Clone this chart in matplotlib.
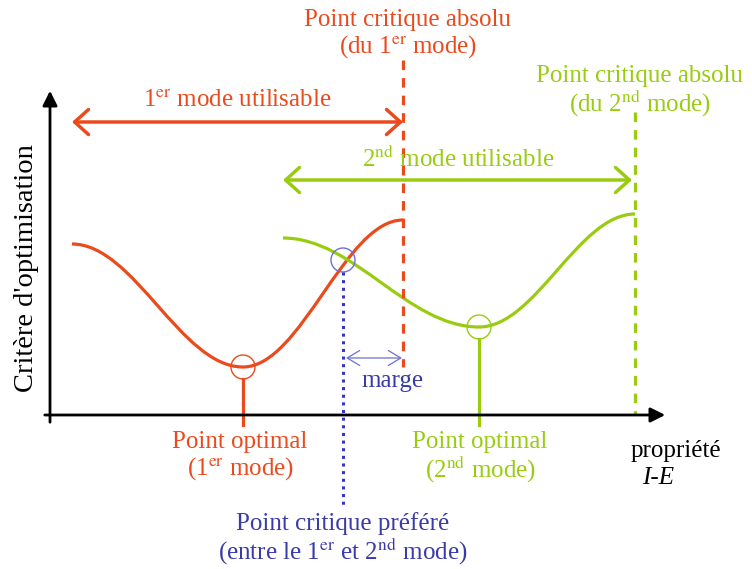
import numpy as np
import matplotlib.pyplot as plt
from matplotlib.patches import Circle, PathPatch
from matplotlib.path import Path

plt.rcParams['font.family'] = 'Liberation Serif'
plt.rcParams['mathtext.fontset'] = 'stix'

RED = '#ea4a1c'
GREEN = '#99cc11'
BLUE = '#3a3aa8'
BLUE_LIGHT = '#6f6fcf'

# turning points of the two schematic curves (pixel coords, y downwards)
mode1_x = [72, 243, 403]
mode1_y = [244, 367, 220]
mode2_x = [283, 479, 635]
mode2_y = [238, 327, 214]

opt1 = (243, 367)
opt2 = (479, 327)
cross = (343, 260)
crit1_x = 403
crit2_x = 635


def smooth_path(xs, ys, k=0.3642):
    # cubic bezier pieces, flat tangent at every turning point
    verts = [(xs[0], ys[0])]
    codes = [Path.MOVETO]
    for i in range(len(xs) - 1):
        dx = xs[i + 1] - xs[i]
        verts += [(xs[i] + k * dx, ys[i]), (xs[i + 1] - k * dx, ys[i + 1]), (xs[i + 1], ys[i + 1])]
        codes += [Path.CURVE4] * 3
    return Path(verts, codes)


fig = plt.figure(figsize=(7.52, 5.69), dpi=100)
ax = fig.add_axes([0, 0, 1, 1])
ax.set_xlim(0, 752)
ax.set_ylim(569, 0)
ax.axis('off')

# axes arrows
ax.annotate('', xy=(668, 415), xytext=(42, 415),
            arrowprops=dict(arrowstyle='-|>', lw=2, color='black', mutation_scale=22))
ax.annotate('', xy=(50, 88), xytext=(50, 425),
            arrowprops=dict(arrowstyle='-|>', lw=2, color='black', mutation_scale=22))

# curves
ax.add_patch(PathPatch(smooth_path(mode1_x, mode1_y), fill=False, ec=RED, lw=2.3, capstyle='butt'))
ax.add_patch(PathPatch(smooth_path(mode2_x, mode2_y), fill=False, ec=GREEN, lw=2.3, capstyle='butt'))

# circles
ax.add_patch(Circle(opt1, 12, fill=False, ec=RED, lw=1))
ax.add_patch(Circle(opt2, 12, fill=False, ec=GREEN, lw=1))
ax.add_patch(Circle(cross, 12, fill=False, ec=BLUE_LIGHT, lw=1))

# vertical markers
ax.plot([opt1[0], opt1[0]], [opt1[1] + 12, 425], color=RED, lw=2.3)
ax.plot([opt2[0], opt2[0]], [opt2[1] + 12, 425], color=GREEN, lw=2.3)
ax.plot([cross[0], cross[0]], [cross[1] + 12, 507], color='#3535c0', lw=2.2, ls=(0, (1, 1.5)))
ax.plot([crit1_x, crit1_x], [60, 367], color=RED, lw=2.3, ls=(0, (3, 2.5)))
ax.plot([crit2_x, crit2_x], [112, 415], color=GREEN, lw=2.3, ls=(0, (3, 2.5)))

# range arrows
ax.annotate('', xy=(72, 122), xytext=(crit1_x, 122),
            arrowprops=dict(arrowstyle='<->,head_length=0.5,head_width=0.45', lw=2.5,
                            color=RED, mutation_scale=20, shrinkA=0, shrinkB=0))
ax.annotate('', xy=(283, 180), xytext=(632, 180),
            arrowprops=dict(arrowstyle='<->,head_length=0.5,head_width=0.45', lw=2.5,
                            color=GREEN, mutation_scale=20, shrinkA=0, shrinkB=0))
ax.annotate('', xy=(346, 358), xytext=(402, 358),
            arrowprops=dict(arrowstyle='<->,head_length=0.5,head_width=0.3', lw=0.9,
                            color=BLUE_LIGHT, mutation_scale=18, shrinkA=0, shrinkB=0))

fs = 18
ax.text(408, 20, 'Point critique absolu', color=RED, fontsize=fs, ha='center', va='center')
ax.text(408, 47, r'(du 1$^{\mathrm{er}}$ mode)', color=RED, fontsize=fs, ha='center', va='center')
ax.text(640, 76, 'Point critique absolu', color=GREEN, fontsize=fs, ha='center', va='center')
ax.text(640, 103, r'(du 2$^{\mathrm{nd}}$ mode)', color=GREEN, fontsize=fs, ha='center', va='center')
ax.text(237, 101, r'1$^{\mathrm{er}}$ mode utilisable', color=RED, fontsize=fs, ha='center', va='center')
ax.text(458, 159, r'2$^{\mathrm{nd}}$ mode utilisable', color=GREEN, fontsize=fs, ha='center', va='center')
ax.text(27, 268, "Critère d'optimisation", color='black', fontsize=20.5, rotation=90,
        ha='center', va='center')
ax.text(393, 381, 'marge', color=BLUE, fontsize=fs, ha='center', va='center')
ax.text(240, 442, 'Point optimal', color=RED, fontsize=fs, ha='center', va='center')
ax.text(240, 469, r'(1$^{\mathrm{er}}$ mode)', color=RED, fontsize=fs, ha='center', va='center')
ax.text(480, 442, 'Point optimal', color=GREEN, fontsize=fs, ha='center', va='center')
ax.text(480, 469, r'(2$^{\mathrm{nd}}$ mode)', color=GREEN, fontsize=fs, ha='center', va='center')
ax.text(676, 451, 'propriété', color='black', fontsize=fs, ha='center', va='center')
ax.text(658, 478, 'I-E', color='black', fontsize=fs, style='italic', ha='center', va='center')
ax.text(343, 524, 'Point critique préféré', color=BLUE, fontsize=fs, ha='center', va='center')
ax.text(343, 551, r'(entre le 1$^{\mathrm{er}}$ et 2$^{\mathrm{nd}}$ mode)', color=BLUE,
        fontsize=fs, ha='center', va='center')

plt.savefig('out.png', dpi=100)
